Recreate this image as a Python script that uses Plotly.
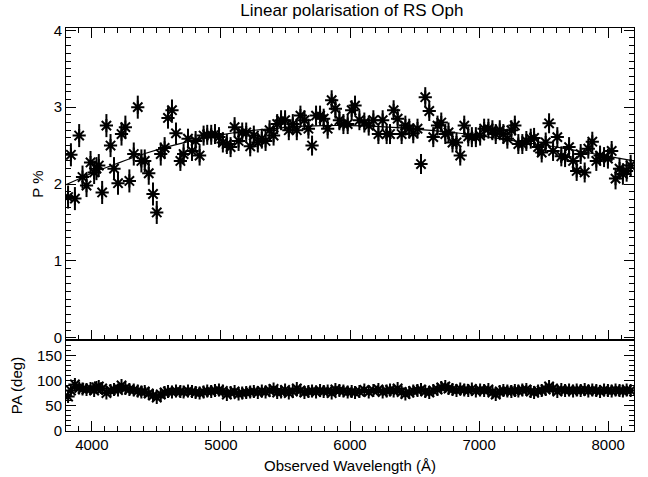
import plotly.graph_objects as go

# Observed wavelength (Angstrom)
WAVE = [3816, 3838, 3869, 3902, 3928, 3959, 3990, 4018, 4036, 4054, 4080, 4113, 4145, 4172, 4203,
        4230, 4260, 4291, 4325, 4356, 4384, 4410, 4441, 4474, 4503, 4534, 4564, 4590, 4621, 4652,
        4686, 4711, 4745, 4776, 4804, 4835, 4866, 4894, 4925, 4954, 4985, 5015, 5046, 5075, 5106,
        5137, 5165, 5196, 5227, 5255, 5286, 5317, 5346, 5377, 5408, 5436, 5466, 5497, 5526, 5557,
        5588, 5616, 5647, 5678, 5706, 5737, 5768, 5796, 5827, 5858, 5887, 5918, 5949, 5982, 6013,
        6039, 6073, 6111, 6145, 6181, 6220, 6253, 6284, 6310, 6338, 6369, 6400, 6429, 6459, 6490,
        6523, 6550, 6583, 6614, 6645, 6678, 6707, 6738, 6763, 6794, 6825, 6854, 6885, 6916, 6944,
        6975, 7008, 7039, 7072, 7103, 7129, 7160, 7188, 7219, 7250, 7277, 7304, 7335, 7366, 7400,
        7426, 7457, 7485, 7516, 7542, 7573, 7606, 7637, 7666, 7697, 7728, 7756, 7787, 7818, 7846,
        7877, 7908, 7937, 7968, 7998, 8027, 8057, 8088, 8114, 8143, 8174]

# Linear polarisation P (%)
P = [1.83, 2.38, 1.81, 2.63, 2.09, 1.98, 2.28, 2.15, 2.20, 2.24, 1.89, 2.76, 2.50, 2.20, 2.01,
     2.65, 2.74, 2.04, 2.39, 3.00, 2.30, 2.30, 2.14, 1.87, 1.63, 2.39, 2.47, 2.86, 2.96, 2.66,
     2.30, 2.39, 2.59, 2.43, 2.56, 2.37, 2.63, 2.64, 2.64, 2.65, 2.61, 2.54, 2.52, 2.48, 2.74,
     2.56, 2.67, 2.67, 2.49, 2.63, 2.54, 2.59, 2.56, 2.70, 2.63, 2.78, 2.83, 2.83, 2.70, 2.78,
     2.70, 2.89, 2.83, 2.72, 2.50, 2.89, 2.89, 2.85, 2.72, 3.09, 2.98, 2.83, 2.78, 2.78, 2.96,
     3.02, 2.83, 2.80, 2.76, 2.83, 2.65, 2.83, 2.65, 2.65, 2.96, 2.85, 2.65, 2.76, 2.72, 2.66,
     2.72, 2.26, 3.13, 2.95, 2.61, 2.76, 2.80, 2.65, 2.67, 2.54, 2.54, 2.37, 2.76, 2.62, 2.61,
     2.61, 2.63, 2.72, 2.72, 2.70, 2.65, 2.70, 2.65, 2.59, 2.70, 2.76, 2.52, 2.52, 2.56, 2.59,
     2.60, 2.48, 2.41, 2.54, 2.79, 2.43, 2.61, 2.36, 2.35, 2.48, 2.30, 2.17, 2.39, 2.15, 2.46,
     2.55, 2.30, 2.37, 2.35, 2.33, 2.43, 2.07, 2.20, 2.13, 2.17, 2.24]

P_ERR = [0.15, 0.15, 0.15, 0.15, 0.15, 0.15, 0.15, 0.15, 0.15, 0.15, 0.15, 0.15, 0.15, 0.15, 0.15,
         0.15, 0.15, 0.15, 0.15, 0.15, 0.15, 0.15, 0.15, 0.15, 0.15, 0.15, 0.14, 0.14, 0.14, 0.14,
         0.13, 0.13, 0.13, 0.13, 0.13, 0.13, 0.13, 0.13, 0.13, 0.13, 0.13, 0.13, 0.13, 0.13, 0.13,
         0.13, 0.13, 0.13, 0.13, 0.13, 0.13, 0.13, 0.13, 0.13, 0.13, 0.13, 0.13, 0.13, 0.13, 0.13,
         0.13, 0.13, 0.13, 0.13, 0.13, 0.13, 0.13, 0.13, 0.13, 0.13, 0.13, 0.13, 0.13, 0.13, 0.13,
         0.13, 0.13, 0.13, 0.13, 0.13, 0.13, 0.13, 0.13, 0.13, 0.13, 0.13, 0.13, 0.13, 0.13, 0.13,
         0.13, 0.13, 0.13, 0.13, 0.13, 0.13, 0.13, 0.13, 0.13, 0.13, 0.13, 0.13, 0.13, 0.13, 0.13,
         0.13, 0.13, 0.13, 0.13, 0.13, 0.13, 0.13, 0.13, 0.13, 0.13, 0.13, 0.13, 0.13, 0.13, 0.13,
         0.13, 0.13, 0.13, 0.13, 0.13, 0.13, 0.13, 0.13, 0.13, 0.13, 0.13, 0.13, 0.13, 0.13, 0.13,
         0.13, 0.13, 0.13, 0.13, 0.13, 0.13, 0.14, 0.14, 0.14, 0.14, 0.14]

# Position angle (deg)
PA = [68, 80, 92, 85, 83, 82, 84, 80, 86, 88, 84, 75, 80, 82, 81,
      90, 84, 82, 81, 79, 77, 78, 74, 70, 66, 72, 76, 78, 77, 79,
      78, 77, 79, 78, 76, 75, 77, 79, 78, 80, 81, 79, 72, 76, 78,
      73, 75, 76, 77, 78, 76, 79, 77, 80, 83, 76, 77, 81, 75, 78,
      84, 80, 76, 78, 79, 77, 80, 78, 79, 75, 82, 80, 79, 77, 78,
      76, 78, 81, 77, 80, 82, 77, 79, 81, 79, 84, 77, 73, 76, 79,
      80, 82, 78, 76, 80, 82, 86, 88, 84, 82, 80, 83, 81, 80, 83,
      79, 81, 80, 82, 76, 72, 78, 80, 79, 78, 80, 79, 81, 82, 78,
      76, 79, 80, 82, 88, 84, 78, 82, 80, 81, 79, 81, 80, 82, 79,
      81, 80, 78, 81, 80, 79, 81, 80, 79, 81, 80]

PA_ERR = [3] * len(PA)

# Smooth fitted curve
FIT_WAVE = [3800, 4000, 4200, 4400, 4600, 4800, 5000, 5200, 5400, 5600, 5800, 6000,
            6200, 6400, 6600, 6800, 7000, 7200, 7400, 7600, 7800, 8000, 8200]
FIT_P = [1.99, 2.14, 2.27, 2.39, 2.49, 2.57, 2.64, 2.69, 2.72, 2.75, 2.76, 2.76,
         2.75, 2.73, 2.70, 2.67, 2.63, 2.58, 2.53, 2.48, 2.42, 2.36, 2.30]

FONT = "Liberation Sans, Arial, Helvetica, sans-serif"

marker = dict(symbol="asterisk-open", size=11, color="black", line=dict(color="black", width=2))

fig = go.Figure()
fig.add_trace(go.Scatter(x=WAVE, y=P, mode="markers", marker=marker,
                         error_y=dict(type="data", array=P_ERR, width=0, thickness=2, color="black"),
                         xaxis="x", yaxis="y", showlegend=False))
fig.add_trace(go.Scatter(x=FIT_WAVE, y=FIT_P, mode="lines",
                         line=dict(color="black", width=1.2, shape="spline"),
                         xaxis="x", yaxis="y", showlegend=False))
fig.add_trace(go.Scatter(x=WAVE, y=PA, mode="markers", marker=marker,
                         error_y=dict(type="data", array=PA_ERR, width=0, thickness=2, color="black"),
                         xaxis="x2", yaxis="y2", showlegend=False))

split = (431 - 340) / 403.0

axis_common = dict(showgrid=False, zeroline=False, showline=True, linecolor="black", linewidth=1,
                   automargin=False,
                   ticks="inside", tickcolor="black", tickfont=dict(family=FONT, size=15, color="black"))

fig.update_layout(
    width=648, height=477,
    margin=dict(l=66, r=14, t=28, b=46),
    paper_bgcolor="white", plot_bgcolor="white",
    title=dict(text="Linear polarisation of RS Oph", x=0.543, xanchor="center",
               y=1 - 10 / 477, yanchor="middle",
               font=dict(family=FONT, size=17, color="black")),
    xaxis=dict(axis_common, domain=[0, 1], range=[3800, 8200], anchor="y", mirror="ticks",
               showticklabels=False, dtick=1000, tick0=4000, ticklen=10,
               minor=dict(dtick=100, ticklen=5, ticks="inside", tickcolor="black")),
    yaxis=dict(axis_common, domain=[split, 1], range=[-0.03, 4.03], anchor="x", mirror="ticks",
               dtick=1, tick0=0, ticklen=10,
               minor=dict(dtick=0.1, ticklen=5, ticks="inside", tickcolor="black"),
               title=dict(text="P %", font=dict(family=FONT, size=15, color="black"), standoff=6)),
    xaxis2=dict(axis_common, domain=[0, 1], range=[3800, 8200], anchor="y2", mirror=True,
                dtick=1000, tick0=4000, ticklen=10,
                minor=dict(dtick=100, ticklen=5, ticks="inside", tickcolor="black"),
                title=dict(text="Observed Wavelength (Å)", font=dict(family=FONT, size=15, color="black"),
                           standoff=8)),
    yaxis2=dict(axis_common, domain=[0, split], range=[-1, 181], anchor="x2", mirror="ticks",
                dtick=50, tick0=0, ticklen=10,
                minor=dict(dtick=10, ticklen=5, ticks="inside", tickcolor="black"),
                title=dict(text="PA (deg)", font=dict(family=FONT, size=15, color="black"), standoff=10)),
)

fig.write_html("out.html", config={"displayModeBar": False},
               post_script="document.body.style.margin='0';")
